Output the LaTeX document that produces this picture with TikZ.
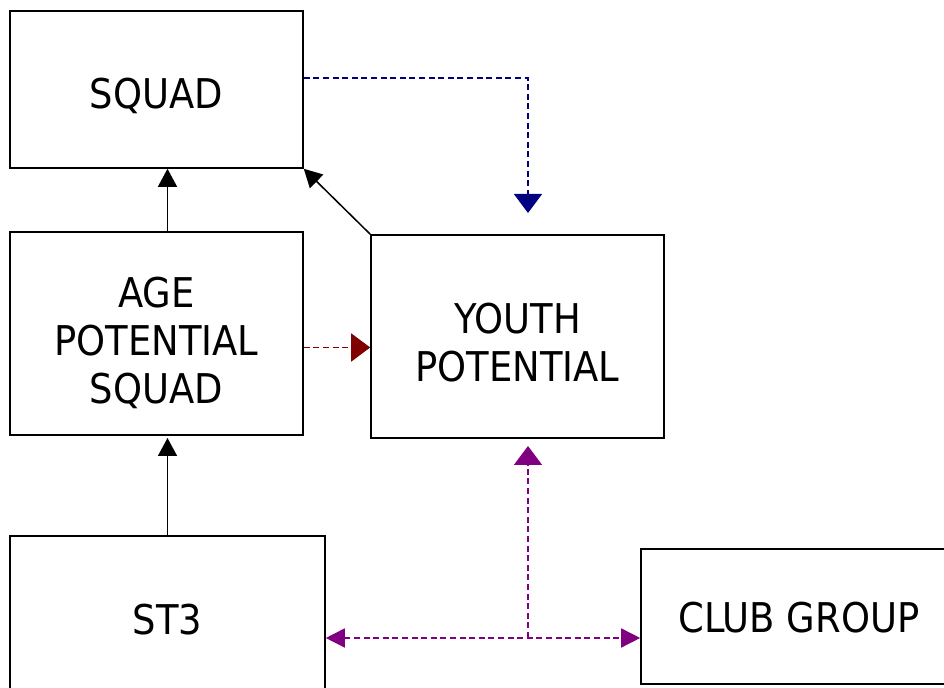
\documentclass[tikz,border=0pt]{standalone}
\usepackage{fontspec}
\setmainfont{DejaVu Sans Condensed}
\usetikzlibrary{arrows.meta}
\definecolor{navylink}{RGB}{0,0,128}
\definecolor{maroonlink}{RGB}{128,0,0}
\definecolor{purplelink}{RGB}{128,0,128}
% strut that pushes a box text down
\newcommand{\dropby}[1]{\rule{0pt}{#1}}
\tikzset{
    box/.style={draw, line width=0.8pt, align=center, inner sep=0pt,
        minimum width=146.5pt, font=\fontsize{20.5}{24}\selectfont},
    link/.style={line width=0.75pt},
    dashlink/.style={line width=0.75pt, dash pattern=on 3pt off 1.8pt},
    bigtip/.style={-{Triangle[length=9.5pt,width=14pt]}},
    smalltip/.style={-{Triangle[length=9pt,width=9.5pt]}}
}
\begin{document}
\begin{tikzpicture}[x=0.5pt, y=-0.5pt]
    \useasboundingbox (0,0) rectangle (944,688);

    % LEFT column
    \node[box, minimum height=78.5pt] (squad) at (156.5, 89.5) {\dropby{22pt}SQUAD};
    \node[box, minimum height=101.5pt] (agesquad) at (156.5, 333.5)
        {\dropby{25pt}AGE\\POTENTIAL\\SQUAD};
    \node[box, minimum width=157.5pt, minimum height=84pt] (st3) at (167.5, 620) {ST3};

    % RIGHT column
    \node[box, minimum height=101.5pt] (youth) at (517.5, 336.5)
        {\dropby{21pt}YOUTH\\POTENTIAL};
    \node[box, minimum width=158pt, minimum height=67.5pt] (club) at (799, 616.5)
        {\dropby{16.5pt}CLUB GROUP};

    % free ends of the dashed links
    \coordinate (youthtop) at (528, 213);
    \coordinate (youthbottom) at (528, 446);
    \coordinate (fork) at (528, 638);
    \coordinate (agebottom) at (167.5, 438);

    % solid links
    \draw[link, smalltip] ([xshift=5.5pt]agesquad.north) -- ([xshift=5.5pt]squad.south);
    \draw[link, smalltip] (youth.north west) -- (squad.south east);
    \draw[link, smalltip] (st3.north) -- (agebottom);

    % dashed links
    \draw[dashlink, navylink, bigtip] ([yshift=5.75pt]squad.east) -| (youthtop);
    \draw[dashlink, maroonlink, bigtip] ([yshift=-7pt]agesquad.east)
        -- ([yshift=-7pt]agesquad.east -| youth.west);
    \draw[dashlink, purplelink, {Triangle[length=9.5pt,width=9.5pt]}-{Triangle[length=9.5pt,width=9.5pt]}]
        ([yshift=-9pt]st3.east) -- ([yshift=-9pt]st3.east -| club.west);
    \draw[dashlink, purplelink, bigtip] (fork) -- (youthbottom);
\end{tikzpicture}
\end{document}
